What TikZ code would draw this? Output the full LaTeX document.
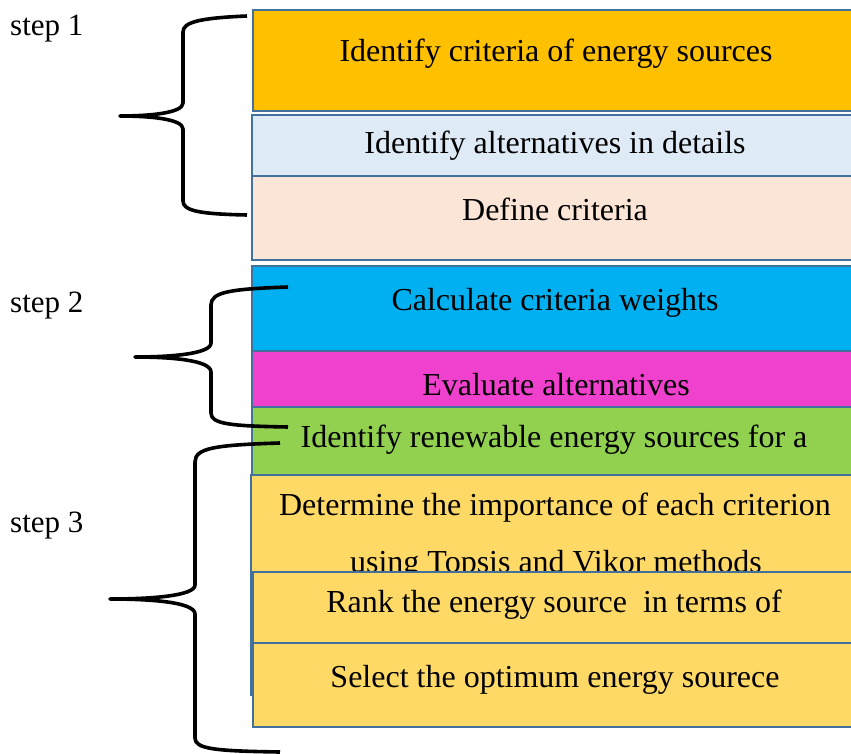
\documentclass[tikz,border=0pt]{standalone}
\usepackage{fontspec}
\setmainfont{Liberation Serif}
\definecolor{boxline}{HTML}{41719C}
\definecolor{cOrange}{HTML}{FFC000}
\definecolor{cIce}{HTML}{DEEBF7}
\definecolor{cPeach}{HTML}{FBE5D6}
\definecolor{cCyan}{HTML}{00B0F0}
\definecolor{cMagenta}{HTML}{F041CE}
\definecolor{cGreen}{HTML}{92D050}
\definecolor{cGold}{HTML}{FFD966}
\begin{document}
\begin{tikzpicture}[x=1pt,y=-1pt,
  stage/.style={draw=boxline, line width=2pt, inner sep=0pt, anchor=north west, minimum width=606pt},
  label/.style={anchor=base, inner sep=0pt, font=\fontsize{32}{38}\selectfont},
  steplabel/.style={anchor=base west, inner sep=0pt, font=\fontsize{31}{36}\selectfont},
  brace/.style={line width=3.6pt, line join=round, line cap=butt}]
\useasboundingbox (0,0) rectangle (851,754);

% step 1 boxes
\node[stage, fill=cOrange, minimum height=101pt] (b1) at (252,9) {};
\node[label] (t1) at (556,62) {Identify criteria of energy sources};
\node[stage, fill=cIce, minimum height=61pt] (b2) at (251,114) {};
\node[label] (t2) at (555,154) {Identify alternatives in details};
\node[stage, fill=cPeach, minimum height=84pt] (b3) at (251,175) {};
\node[label] (t3) at (555,220) {Define criteria};

% step 2 boxes
\node[stage, fill=cCyan, minimum height=85pt] (b4) at (251,265) {};
\node[label] (t4) at (555,310) {Calculate criteria weights};
\node[stage, fill=cMagenta, minimum height=56pt] (b5) at (251,350) {};
\node[label] (t5) at (556,395) {Evaluate alternatives};
\node[stage, fill=cGreen, minimum height=68pt] (b6) at (251,406) {};
\node[label] (t6) at (554,447) {Identify renewable energy sources for a};

% step 3 boxes
\node[stage, fill=cGold, minimum height=220pt] (b7) at (250,474) {};
\node[label] (t7) at (555,515) {Determine the importance of each criterion};
\node[label] (t7b) at (556,572) {using Topsis and Vikor methods};
\node[stage, fill=cGold, minimum height=71pt] (b8) at (252,571) {};
\node[label] (t8) at (554,612) {Rank the energy source\ \ in terms of};
\node[stage, fill=cGold, minimum height=84pt] (b9) at (252,642) {};
\node[label] (t9) at (555,687) {Select the optimum energy sourece};

% step labels
\node[steplabel] (s1) at (10,36) {step 1};
\node[steplabel] (s2) at (10,312) {step 2};
\node[steplabel] (s3) at (10,532) {step 3};

% braces
\draw[brace] (247,16) .. controls (200,18) and (183,22) .. (183,32) -- (183,103)
  .. controls (183,113) and (150,116) .. (120,116)
  .. controls (150,116) and (183,119) .. (183,129) -- (183,201)
  .. controls (183,211) and (200,214) .. (247,215);
\draw[brace] (288,287) .. controls (230,289) and (211,292) .. (211,305) -- (211,343)
  .. controls (211,354) and (170,357) .. (135,357)
  .. controls (170,357) and (211,360) .. (211,372) -- (211,413)
  .. controls (211,424) and (230,426) .. (288,427);
\draw[brace] (280,443) .. controls (215,445) and (195,448) .. (195,462) -- (195,585)
  .. controls (195,596) and (150,599) .. (110,599)
  .. controls (150,599) and (195,602) .. (195,614) -- (195,738)
  .. controls (195,749) and (215,751) .. (280,752);
\end{tikzpicture}
\end{document}
